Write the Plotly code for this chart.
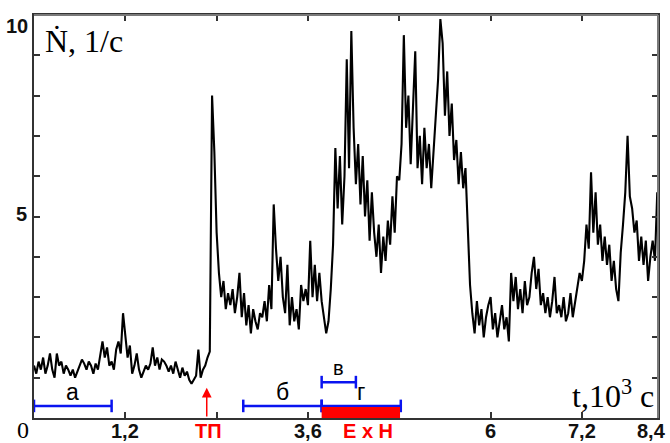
import numpy as np
import plotly.graph_objects as go

# Count rate N-dot (1/c) sampled every 0.03 x 10^3 c
t_step = 0.03
count_rate = [
    1.3, 1.1, 1.4, 1.2, 1.5, 1.1, 1.3, 1.6, 1.2, 1.0,
    1.6, 1.3, 1.4, 1.1, 1.3, 1.2, 1.05, 1.2, 1.0, 1.15,
    1.3, 1.45, 1.35, 1.2, 1.4, 1.3, 1.1, 1.35, 1.2, 1.5,
    1.9, 1.5, 1.75, 1.3, 1.4, 1.2, 1.7, 1.9, 1.6, 2.6,
    2.1, 1.5, 1.8, 1.1, 1.3, 1.6, 1.2, 1.0, 1.15, 1.3,
    1.2, 1.35, 1.75, 1.3, 1.5, 1.2, 1.45, 1.4, 1.3, 1.15,
    1.3, 1.1, 1.4, 1.2, 1.0, 1.25, 1.05, 1.15, 0.95, 0.85,
    0.95, 1.05, 1.7, 1.0, 1.2, 1.3, 1.5, 1.65, 8.0, 6.6,
    4.6, 3.6, 3.0, 3.4, 2.7, 3.1, 2.8, 3.2, 2.6, 3.0,
    3.6, 2.5, 3.1, 2.3, 2.8, 2.1, 2.7, 2.4, 2.2, 2.6,
    2.5, 2.9, 2.4, 3.3, 2.7, 5.3, 4.2, 3.4, 4.0, 3.0,
    2.6, 3.8, 2.3, 3.0, 2.4, 2.7, 2.2, 3.3, 2.9, 3.2,
    2.8, 4.4, 3.0, 3.8, 2.9, 3.6, 2.9, 2.5, 2.1, 2.4,
    3.2, 4.3, 6.7, 5.2, 6.5, 4.8, 6.0, 8.9, 6.2, 9.6,
    7.2, 5.8, 6.8, 5.3, 6.5, 5.0, 5.9, 4.4, 5.6, 4.6,
    4.0, 4.8, 3.6, 4.5, 3.9, 4.9, 4.3, 5.5, 4.6, 6.0,
    5.9, 6.8, 9.5, 7.2, 8.0, 6.3, 7.6, 9.1, 6.2, 7.0,
    5.8, 7.2, 6.2, 6.8, 5.7, 6.5, 7.5, 8.4, 9.9, 9.3,
    7.5, 8.6, 7.0, 7.8, 6.4, 6.9, 5.8, 6.6, 5.7, 6.2,
    4.8, 3.3, 2.6, 2.1, 2.9, 2.3, 2.7, 2.0, 2.5, 2.8,
    3.0, 2.2, 2.6, 2.0, 2.4, 2.8, 2.2, 2.5, 1.9, 3.6,
    2.9, 3.5, 2.7, 3.2, 2.6, 3.4, 2.8, 3.0, 3.6, 4.0,
    3.2, 3.7, 2.8, 3.1, 2.6, 3.0, 2.5, 2.9, 3.5, 2.6,
    2.8, 2.5, 3.0, 2.4, 2.6, 3.1, 2.5, 2.9, 3.3, 3.6,
    3.4, 3.9, 4.8, 4.2, 6.1, 4.6, 5.6, 4.3, 4.8, 3.9,
    4.5, 3.8, 4.3, 3.4, 3.9, 3.2, 2.9, 4.1, 4.8, 5.6,
    7.0, 5.5, 5.2, 4.6, 4.9, 3.9, 4.5, 3.8, 4.4, 3.4,
    4.0, 4.4, 3.9, 5.6,
]
t = np.round(np.arange(len(count_rate)) * t_step, 3)

# Measurement intervals
interval_labels = ["а", "б", "в", "г"]
interval_start = [0.0, 2.75, 3.78, 3.78]
interval_end = [1.02, 3.78, 4.23, 4.82]
interval_level = [0.3, 0.3, 0.89, 0.3]

# E x H exposure window and the phase-transition moment
exh_start, exh_end, exh_height = 3.78, 4.81, 0.27
tp_time, tp_arrow_top = 2.27, 0.75

x_range = [0, 8.2]
y_range = [0, 10]
x_tick_vals = [0, 1.2, 2.4, 3.6, 4.8, 6.0, 7.2]
x_label_vals = [1.2, 3.6, 6.0, 7.2]
x_label_text = ["1,2", "3,6", "6", "7,2"]
y_tick_vals = list(range(0, 11))

BLUE = "#0a14f0"
RED = "#ff0000"
SANS = "Liberation Sans, Arial, sans-serif"
SERIF = "Liberation Serif, Times New Roman, serif"
TICK_FONT = dict(family=SANS, size=20, color="#111", weight="bold")


def px(xv):
    """x data value -> paper fraction"""
    return (xv - x_range[0]) / (x_range[1] - x_range[0])


def py(yv):
    """y data value -> paper fraction"""
    return (yv - y_range[0]) / (y_range[1] - y_range[0])


fig = go.Figure()

fig.add_shape(type="rect", xref="x", yref="y",
              x0=exh_start, x1=exh_end, y0=0, y1=exh_height,
              fillcolor=RED, line=dict(width=0), layer="above")

fig.add_trace(go.Scatter(
    x=t, y=count_rate, mode="lines",
    line=dict(color="black", width=2.1),
    hoverinfo="skip", showlegend=False,
))

for lab, a, b, lev in zip(interval_labels, interval_start, interval_end, interval_level):
    fig.add_trace(go.Scatter(
        x=[a, b], y=[lev, lev], mode="lines+markers",
        line=dict(color=BLUE, width=2.5),
        marker=dict(symbol="line-ns-open", size=9,
                    line=dict(color=BLUE, width=2.5)),
        cliponaxis=False, hoverinfo="skip", showlegend=False,
    ))
    fig.add_annotation(x=(a + b) / 2, y=lev, text=lab, showarrow=False,
                       xanchor="center", yshift=14,
                       font=dict(family=SANS, size=23 if lev < 0.5 else 20,
                                 color="black"))

# ТП arrow
fig.add_annotation(x=tp_time, y=tp_arrow_top, ax=tp_time, ay=0,
                   xref="x", yref="y", axref="x", ayref="y",
                   showarrow=True, arrowhead=2, arrowsize=1.3, arrowwidth=1.5,
                   arrowcolor=RED, text="")

below = dict(xref="paper", yref="paper", showarrow=False, yanchor="middle")
label_y = py(-0.33)

# x tick labels
for xv, txt in zip(x_label_vals, x_label_text):
    fig.add_annotation(x=px(xv), y=label_y, text=txt, xanchor="center", **below,
                       font=TICK_FONT)
fig.add_annotation(x=px(8.11), y=label_y, text="8,4", xanchor="center", **below,
                   font=TICK_FONT)
fig.add_annotation(x=px(-0.14), y=py(-0.3), text="0", xanchor="center", **below,
                   font=dict(family=SERIF, size=24, color="black"))

fig.add_annotation(x=px(tp_time + 0.02), y=label_y, text="ТП", xanchor="center", **below,
                   font=dict(family=SANS, size=20, color=RED, weight="bold"))
fig.add_annotation(x=px((exh_start + exh_end) / 2 + 0.1), y=label_y, text="Е х Н",
                   xanchor="center", **below,
                   font=dict(family=SANS, size=20, color=RED, weight="bold"))

# y tick labels
fig.add_annotation(x=px(-0.22), y=py(9.73), text="10", xanchor="center", **below,
                   font=TICK_FONT)
fig.add_annotation(x=px(-0.165), y=py(5.05), text="5", xanchor="center", **below,
                   font=TICK_FONT)

# axis titles
fig.add_annotation(x=px(0.12), y=py(9.35), xanchor="left", text="Ṅ, 1/c", **below,
                   font=dict(family=SERIF, size=32, color="black"))
fig.add_annotation(x=px(8.17), y=py(0.6), xanchor="right", text="t,10<sup>3</sup> c",
                   **below, font=dict(family=SERIF, size=32, color="black"))

fig.update_xaxes(range=x_range, showline=True, linecolor="#333", linewidth=2,
                 mirror="ticks", ticks="inside", ticklen=6, tickwidth=1.5,
                 tickcolor="#333", tickvals=x_tick_vals, showticklabels=False,
                 showgrid=False, zeroline=False, automargin=False)
fig.update_yaxes(range=y_range, showline=True, linecolor="#333", linewidth=2,
                 mirror="ticks", ticks="inside", ticklen=6, tickwidth=1.5,
                 tickcolor="#333", tickvals=y_tick_vals, showticklabels=False,
                 showgrid=False, zeroline=False, automargin=False)

# lighter top and right frame edges
fig.add_shape(type="line", xref="paper", yref="paper", x0=0, x1=1, y0=1, y1=1,
              line=dict(color="#7a7a7a", width=2), layer="above")
fig.add_shape(type="line", xref="paper", yref="paper", x0=1, x1=1, y0=0, y1=1,
              line=dict(color="#7a7a7a", width=2), layer="above")

fig.update_layout(
    width=670, height=443,
    margin=dict(l=34, r=12, t=15, b=25),
    plot_bgcolor="white", paper_bgcolor="white",
    showlegend=False,
)

fig.write_html("out.html")
